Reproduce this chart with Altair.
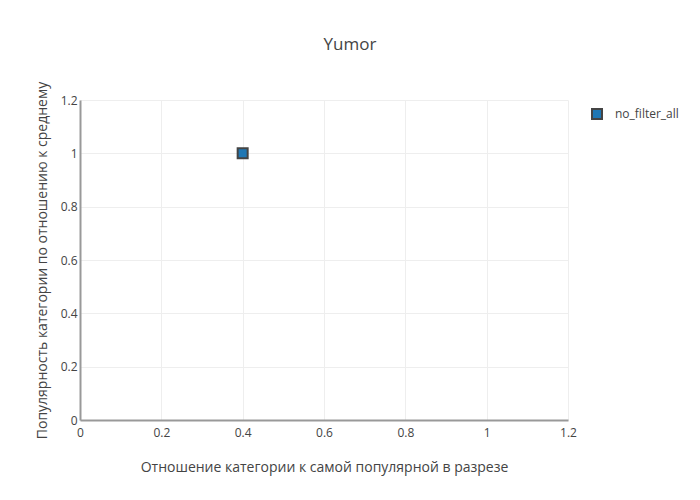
import altair as alt
import pandas as pd

series = ["no_filter_all"]
x_vals = [0.4]
y_vals = [1.0]
ticks = [0, 0.2, 0.4, 0.6, 0.8, 1.0, 1.2]

df = pd.DataFrame({"series": series, "x": x_vals, "y": y_vals})

FONT = "Open Sans"
GREY = "#444444"

chart = alt.Chart(df).mark_point(
    shape="square", filled=True, size=100, stroke=GREY, strokeWidth=2, opacity=1
).encode(
    x=alt.X("x:Q", scale=alt.Scale(domain=[0, 1.2], nice=False),
            axis=alt.Axis(values=ticks, format="~g", labelPadding=7, labelFlush=False,
                          title="Отношение категории к самой популярной в разрезе",
                          titlePadding=22)),
    y=alt.Y("y:Q", scale=alt.Scale(domain=[0, 1.2], nice=False),
            axis=alt.Axis(values=ticks, format="~g", labelPadding=3, labelFlush=False,
                          title="Популярность категории по отношению к среднему",
                          titlePadding=11)),
    color=alt.Color("series:N",
                    scale=alt.Scale(domain=series, range=["#1f77b4"]),
                    legend=alt.Legend(title=None, orient="none", legendX=511, legendY=8,
                                      symbolType="square", symbolSize=100,
                                      symbolStrokeColor=GREY, symbolStrokeWidth=2,
                                      symbolOpacity=1, labelFontSize=12,
                                      labelColor=GREY, labelFont=FONT,
                                      labelOffset=12, padding=0)),
).properties(
    width=488, height=320,
    autosize=alt.AutoSizeParams(type="none"),
    padding={"left": 72, "top": 92, "right": 112, "bottom": 72},
    title=alt.TitleParams("Yumor", fontSize=17, font=FONT, color=GREY,
                          fontWeight="normal", anchor="middle", dx=26, offset=27),
).configure_view(stroke=None).configure_axis(
    grid=True, gridColor="#eeeeee", gridWidth=1,
    domainColor="#999999", domainWidth=2,
    ticks=False,
    labelFont=FONT, labelFontSize=12, labelColor=GREY,
    titleFont=FONT, titleFontSize=14, titleColor=GREY, titleFontWeight="normal",
)

chart.save("out.html", embed_options={"renderer": "svg", "actions": False})
